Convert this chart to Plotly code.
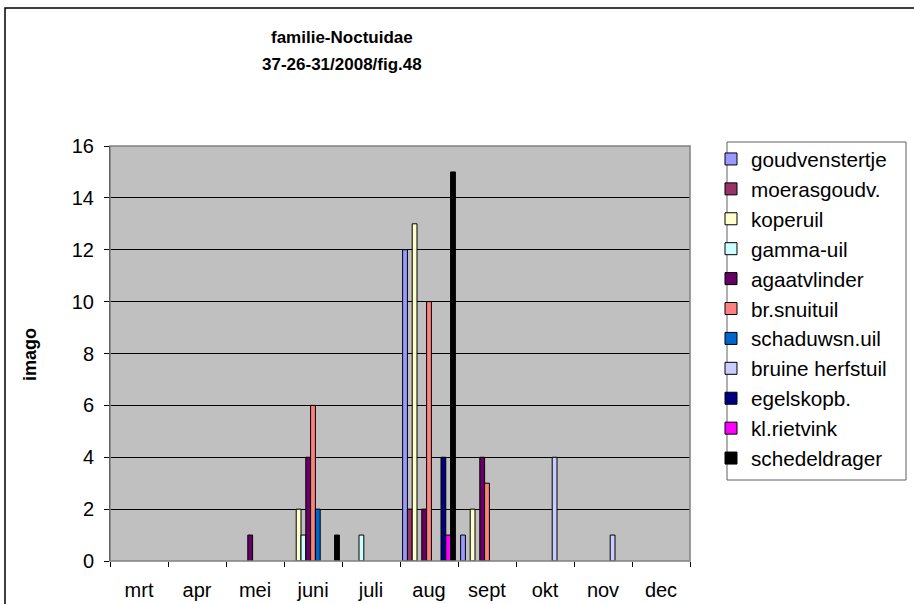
import plotly.graph_objects as go

months = ["mrt", "apr", "mei", "juni", "juli", "aug", "sept", "okt", "nov", "dec"]

series_names = ["goudvenstertje", "moerasgoudv.", "koperuil", "gamma-uil", "agaatvlinder",
                "br.snuituil", "schaduwsn.uil", "bruine herfstuil", "egelskopb.",
                "kl.rietvink", "schedeldrager"]

goudvenstertje   = [None, None, None, None, None, 12, 1, None, None, None]
moerasgoudv      = [None, None, None, None, None, 2, None, None, None, None]
koperuil         = [None, None, None, 2, None, 13, 2, None, None, None]
gamma_uil        = [None, None, None, 1, 1, None, None, None, None, None]
agaatvlinder     = [None, None, 1, 4, None, 2, 4, None, None, None]
br_snuituil      = [None, None, None, 6, None, 10, 3, None, None, None]
schaduwsn_uil    = [None, None, None, 2, None, None, None, None, None, None]
bruine_herfstuil = [None, None, None, None, None, None, None, 4, 1, None]
egelskopb        = [None, None, None, None, None, 4, None, None, None, None]
kl_rietvink      = [None, None, None, None, None, 1, None, None, None, None]
schedeldrager    = [None, None, None, 1, None, 15, None, None, None, None]

series_values = [goudvenstertje, moerasgoudv, koperuil, gamma_uil, agaatvlinder,
                 br_snuituil, schaduwsn_uil, bruine_herfstuil, egelskopb,
                 kl_rietvink, schedeldrager]

colors = ["#9999FF", "#993366", "#FFFFCC", "#CCFFFF", "#660066", "#FF8080",
          "#0066CC", "#CCCCFF", "#000080", "#FF00FF", "#000000"]

y_ticks = [0, 2, 4, 6, 8, 10, 12, 14, 16]

FONT = "Liberation Sans, Arial, sans-serif"

# plot area in pixels: x 110..690, y 146..561
L, R, T, B = 110, 690, 146, 561
def px(x):
    return (x - L) / (R - L)
def py(y):
    return (B - y) / (B - T)

fig = go.Figure()
for name, vals, col in zip(series_names, series_values, colors):
    fig.add_trace(go.Bar(
        x=months, y=vals, name=name,
        marker=dict(color=col, line=dict(color="#000000", width=1)),
    ))

fig.update_layout(
    width=914, height=604,
    margin=dict(l=L, r=914 - R, t=T, b=604 - B, autoexpand=False),
    paper_bgcolor="#FFFFFF",
    plot_bgcolor="#C0C0C0",
    barmode="group",
    bargap=0.09,
    bargroupgap=0,
    font=dict(family=FONT, color="#000000"),
    showlegend=True,
    legend=dict(
        x=px(711), y=py(139), xanchor="left", yanchor="top",
        bgcolor="rgba(0,0,0,0)", borderwidth=0,
        font=dict(family=FONT, size=20.7, color="#000000"),
        traceorder="normal", maxheight=1,
    ),
    xaxis=dict(
        type="category", categoryorder="array", categoryarray=months,
        showgrid=False, zeroline=False,
        ticks="outside", ticklen=5, tickcolor="#000000", tickson="boundaries",
        tickfont=dict(family=FONT, size=20, color="#000000"),
        ticklabelstandoff=15,
        showline=False,
    ),
    yaxis=dict(
        range=[0, 16], tickvals=y_ticks,
        showgrid=True, gridcolor="#000000", gridwidth=1,
        zeroline=False,
        ticks="outside", ticklen=5, tickcolor="#000000",
        tickfont=dict(family=FONT, size=20, color="#000000"),
        ticklabelstandoff=6,
        showline=True, linecolor="#000000", linewidth=1,
    ),
    shapes=[
        # chart area border
        dict(type="rect", xref="paper", yref="paper",
             x0=px(5), x1=px(960), y0=py(650), y1=py(8),
             line=dict(color="#000000", width=1.5), fillcolor="rgba(0,0,0,0)", layer="below"),
        # plot area border
        dict(type="rect", xref="paper", yref="paper",
             x0=0, x1=1, y0=0, y1=1,
             line=dict(color="#808080", width=1.5), fillcolor="rgba(0,0,0,0)", layer="above"),
        # legend box
        dict(type="rect", xref="paper", yref="paper",
             x0=px(727), x1=px(906), y0=py(480), y1=py(142),
             line=dict(color="#606060", width=1), fillcolor="#FFFFFF", layer="below"),
    ],
    annotations=[
        dict(text="<b>familie-Noctuidae</b>", xref="paper", yref="paper",
             x=px(342), y=py(38), xanchor="center", yanchor="middle", showarrow=False,
             font=dict(family=FONT, size=17, color="#000000")),
        dict(text="<b>37-26-31/2008/fig.48</b>", xref="paper", yref="paper",
             x=px(342), y=py(65), xanchor="center", yanchor="middle", showarrow=False,
             font=dict(family=FONT, size=17, color="#000000")),
        dict(text="<b>imago</b>", xref="paper", yref="paper",
             x=px(30), y=py(355), xanchor="center", yanchor="middle", showarrow=False,
             textangle=-90, font=dict(family=FONT, size=18, color="#000000")),
    ],
)

fig.write_html("out.html", config={"displayModeBar": False},
               post_script="document.body.style.margin='0px';")
